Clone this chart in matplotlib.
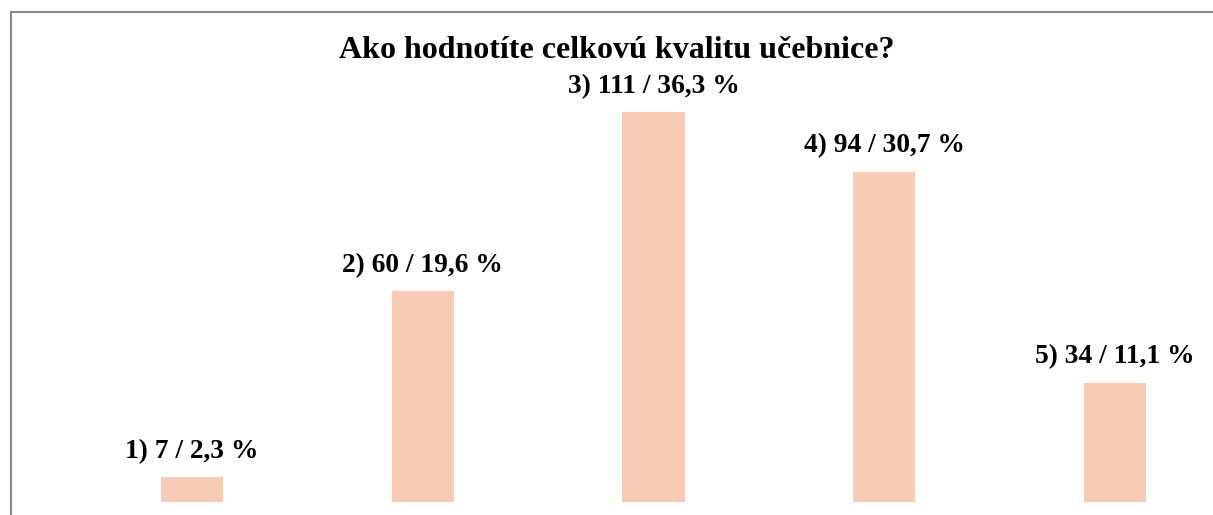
import matplotlib
matplotlib.use("Agg")
import matplotlib.pyplot as plt
from matplotlib.patches import Rectangle

categories = ["1)", "2)", "3)", "4)", "5)"]
counts = [7, 60, 111, 94, 34]
percents = ["2,3", "19,6", "36,3", "30,7", "11,1"]
title = "Ako hodnotíte celkovú kvalitu učebnice?"

W, H = 1213, 515
fig = plt.figure(figsize=(W / 100, H / 100), dpi=100)
ax = fig.add_axes([0, 0, 1, 1])

# pixel layout: bar i centred at 192 + 230.75*i, baseline at y=502, 3.51 px per unit
step = 230.75
x0 = 192
ax.set_xlim(-x0 / step, (W - x0) / step)
ax.set_ylim(-(H - 502) / 3.51, 502 / 3.51)
ax.axis("off")

xs = list(range(len(counts)))
ax.bar(xs, counts, width=0.27, color="#F8CBB4")

for x, cat, n, p in zip(xs, categories, counts, percents):
    ax.annotate(f"{cat} {n} / {p} %", (x, n), xytext=(0, 14), textcoords="offset points",
                ha="center", va="baseline", family="Liberation Serif",
                fontweight="bold", fontsize=19.8)

fig.text(617 / W, 1 - 58 / H, title, ha="center", va="baseline",
         family="Liberation Serif", fontweight="bold", fontsize=23)

# chart frame, cropped on the right and bottom
fig.patches.append(Rectangle((10.5 / W, -0.1), 1.2, 1 - 12 / H + 0.1,
                             transform=fig.transFigure, fill=False,
                             edgecolor="#8a8a8a", linewidth=1.5))

fig.savefig("out.png", dpi=100)
